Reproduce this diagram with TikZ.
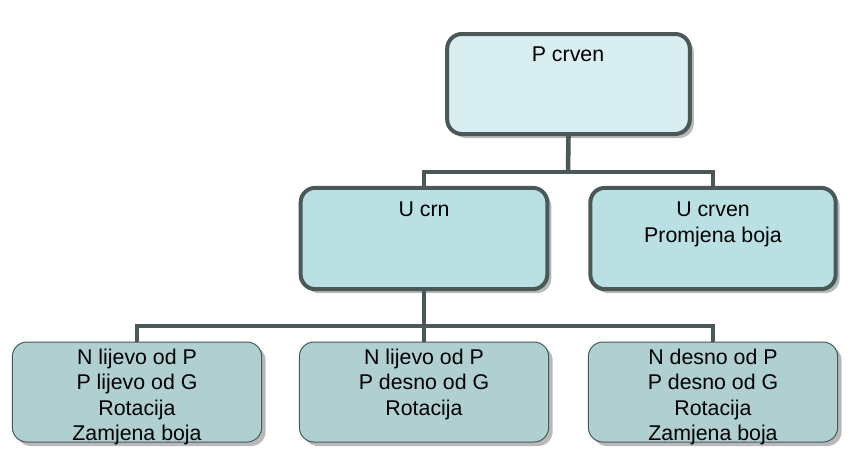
\documentclass[tikz,border=0pt]{standalone}
\usepackage{fontspec}
\setmainfont{Liberation Sans}
\usetikzlibrary{shadows}
\definecolor{bord}{HTML}{4B5858}
\definecolor{topfill}{HTML}{D9EEF0}
\definecolor{midfill}{HTML}{BBE0E3}
\definecolor{lowfill}{HTML}{AFCFD0}
\tikzset{
  boxshadow/.style={drop shadow={shadow xshift=3pt, shadow yshift=-3pt, opacity=0.5, fill=black!55}},
  bigbox/.style={draw=bord, line width=3pt, rounded corners=11pt, boxshadow, inner sep=0pt},
  smallbox/.style={draw=bord, line width=0.75pt, rounded corners=11pt, fill=lowfill, boxshadow, inner sep=0pt,
     minimum width=187pt, minimum height=75pt},
  conn/.style={draw=bord, line width=3.4pt},
  txt/.style={anchor=north, inner sep=0pt, align=center, font=\fontsize{16pt}{18.9pt}\selectfont}
}
\begin{document}
\begin{tikzpicture}[x=0.75pt,y=-0.75pt]
\useasboundingbox (0,0) rectangle (862,468);
\coordinate (j1) at (568,172);
\coordinate (j2) at (424,326);
\node[bigbox, fill=topfill, minimum width=182pt, minimum height=75pt] (p) at (568.5,84) {};
\node[bigbox, fill=midfill, minimum width=185pt, minimum height=76pt] (ucrn) at (424,238.5) {};
\node[bigbox, fill=midfill, minimum width=184pt, minimum height=76pt] (ucrven) at (713,238.5) {};
\node[smallbox] (b1) at (137,392) {};
\node[smallbox] (b2) at (424,392) {};
\node[smallbox] (b3) at (713,392) {};
\draw[conn] (p.south) -- (j1);
\draw[conn] (ucrn.north) |- (j1) -| (ucrven.north);
\draw[conn] (ucrn.south) -- (b2.north);
\draw[conn] (b1.north) |- (j2) -| (b3.north);
\node[txt] (tp) at (568,47) {P crven};
\node[txt] (tu1) at (424,202) {U crn};
\node[txt] (tu2) at (713,202) {U crven\\Promjena boja};
\node[txt] (t1) at (137,349) {N lijevo od P\\P lijevo od G\\Rotacija\\Zamjena boja};
\node[txt] (t2) at (424,349) {N lijevo od P\\P desno od G\\Rotacija};
\node[txt] (t3) at (713,349) {N desno od P\\P desno od G\\Rotacija\\Zamjena boja};
\end{tikzpicture}
\end{document}
